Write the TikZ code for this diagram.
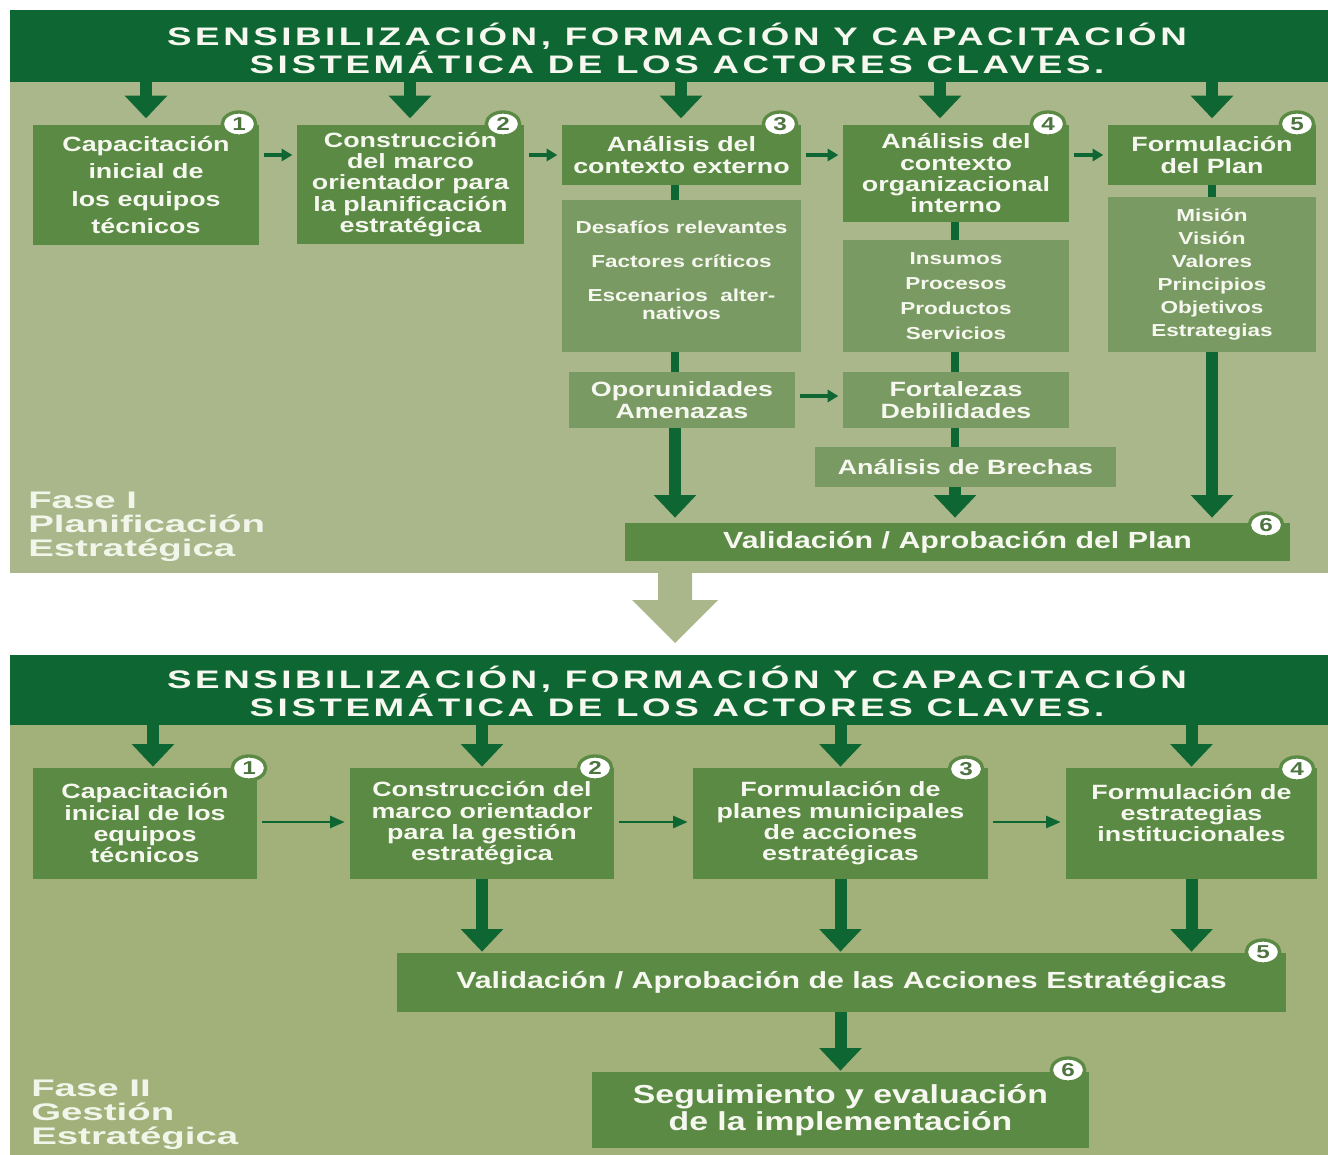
\documentclass[tikz,border=0pt]{standalone}
\usepackage{fontspec}
\setmainfont{Liberation Sans}[FakeStretch=1.3]
\newfontfamily\titlef{Liberation Sans}[FakeStretch=1.45,LetterSpace=14]
\newfontfamily\fasef{Liberation Sans}[FakeStretch=1.6]
\usetikzlibrary{arrows.meta,shapes.geometric}
\definecolor{dkg}{HTML}{0E6632}
\definecolor{olv}{HTML}{A9B78A}
\definecolor{olv2}{HTML}{A2B07A}
\definecolor{bxg}{HTML}{5B8A45}
\definecolor{sbg}{HTML}{7A9A63}
\definecolor{fas}{HTML}{F2F5EA}
\definecolor{wtx}{HTML}{F6F8F0}
\definecolor{numt}{HTML}{4E7440}
\tikzset{
  sz/.style 2 args={minimum width=#1*0.75pt, minimum height=#2*0.75pt},
  base/.style={inner sep=0pt, outer sep=0pt, align=center, text=wtx, anchor=north west},
  bar/.style={base, fill=dkg},
  box/.style={base, fill=bxg, font=\fontsize{15.5}{16}\selectfont\bfseries},
  sub/.style={base, fill=sbg, font=\fontsize{13}{13.5}\selectfont\bfseries},
  ttl/.style={inner sep=0pt, align=center, text=wtx, font=\titlef\fontsize{19}{21}\selectfont\bfseries},
  fase/.style={inner sep=0pt, align=left, anchor=west, text=fas, font=\fasef\fontsize{18}{18}\selectfont\bfseries},
  numc/.style={ellipse, fill=white, draw=bxg, line width=2.5pt, minimum width=25pt, minimum height=18pt, inner sep=0pt, text=numt, font=\fontsize{14}{14}\selectfont\bfseries},
  darr/.style={draw=dkg, line width=9pt, -{Triangle[width=31pt,length=17pt]}},
  conn/.style={draw=dkg, line width=6pt},
  sarr/.style={draw=dkg, line width=2.5pt, -{Triangle[width=9pt,length=8pt]}, shorten <=3.5pt, shorten >=3.5pt},
  harr/.style={draw=dkg, line width=2pt, -{Triangle[width=9pt,length=11pt]}, shorten <=4pt, shorten >=4pt}
}
\begin{document}
\begin{tikzpicture}[x=0.75pt, y=-0.75pt]
\useasboundingbox (0,0) rectangle (1328,1155);
% ---------------- Fase I ----------------
\fill[olv] (10,10) rectangle (1328,573);
\node[bar, sz={1318}{72}] (bar1) at (10,10) {};
\node[ttl] (t1) at (677,48) {SENSIBILIZACIÓN, FORMACIÓN Y CAPACITACIÓN\\SISTEMÁTICA DE LOS ACTORES CLAVES.};

\node[box, sz={226}{120}, font=\fontsize{15.5}{20.6}\selectfont\bfseries] (p1) at (33,125) {Capacitación\\inicial de\\los equipos\\técnicos};
\node[box, sz={227}{119}] (p2) at (297,125) {Construcción\\del marco\\orientador para\\la planificación\\estratégica};
\node[box, sz={239}{60}] (p3) at (562,125) {Análisis del\\contexto externo};
\node[box, sz={226}{97}] (p4) at (843,125) {Análisis del\\contexto\\organizacional\\interno};
\node[box, sz={208}{60}] (p5) at (1108,125) {Formulación\\del Plan};

\node[sub, sz={239}{152}] (s3) at (562,200) {Desafíos relevantes\\[12pt]Factores críticos\\[12pt]Escenarios\ \ alter-\\nativos\\[-4pt]\mbox{}};
\node[sub, sz={226}{112}, font=\fontsize{13}{18.75}\selectfont\bfseries] (s4) at (843,240) {Insumos\\Procesos\\Productos\\Servicios};
\node[sub, sz={208}{155}, font=\fontsize{13}{17.25}\selectfont\bfseries] (s5) at (1108,197) {Misión\\Visión\\Valores\\Principios\\Objetivos\\Estrategias};

\node[sub, sz={226}{56}, font=\fontsize{15.5}{16.5}\selectfont\bfseries] (oa) at (569,372) {Oporunidades\\Amenazas};
\node[sub, sz={226}{56}, font=\fontsize{15.5}{16.5}\selectfont\bfseries] (fd) at (843,372) {Fortalezas\\Debilidades};
\node[sub, sz={301}{40}, font=\fontsize{15.5}{16.5}\selectfont\bfseries] (br) at (815,447) {Análisis de Brechas};
\node[box, sz={665}{38}, font=\fontsize{17.5}{20}\selectfont\bfseries] (v1) at (625,523) {Validación / Aprobación del Plan};

\node[fase] (f1) at (28,527) {Fase I\\Planificación\\Estratégica};

\coordinate (a1) at (146,0);
\coordinate (a2) at (410,0);
\coordinate (a3) at (681,0);
\coordinate (a4) at (940,0);
\coordinate (a5) at (1212,0);
\coordinate (cx3) at (675,0);
\coordinate (cx4) at (955,0);
\coordinate (yh) at (0,155);
\coordinate (ya) at (0,396);

\draw[darr, shorten >=5pt] (bar1.south -| a1) -- (p1.north -| a1);
\draw[darr, shorten >=5pt] (bar1.south -| a2) -- (p2.north -| a2);
\draw[darr, shorten >=5pt] (bar1.south -| a3) -- (p3.north -| a3);
\draw[darr, shorten >=5pt] (bar1.south -| a4) -- (p4.north -| a4);
\draw[darr, shorten >=5pt] (bar1.south -| a5) -- (p5.north -| a5);

\draw[sarr] (p1.east |- yh) -- (p2.west |- yh);
\draw[sarr] (p2.east |- yh) -- (p3.west |- yh);
\draw[sarr] (p3.east |- yh) -- (p4.west |- yh);
\draw[sarr] (p4.east |- yh) -- (p5.west |- yh);
\draw[sarr] (oa.east |- ya) -- (fd.west |- ya);

\draw[conn] (p3.south -| cx3) -- (s3.north -| cx3);
\draw[conn] (s3.south -| cx3) -- (oa.north -| cx3);
\draw[conn] (p4.south -| cx4) -- (s4.north -| cx4);
\draw[conn] (s4.south -| cx4) -- (fd.north -| cx4);
\draw[conn] (fd.south -| cx4) -- (br.north -| cx4);
\draw[conn] (p5.south) -- (s5.north);

\draw[darr, shorten >=4pt] (oa.south -| cx3) -- (v1.north -| cx3);
\draw[darr, shorten >=4pt] (br.south -| cx4) -- (v1.north -| cx4);
\draw[darr, shorten >=4pt] (s5.south) -- (v1.north -| s5.south);

\node[numc] (n1) at (239,124) {1};
\node[numc] (n2) at (503,124) {2};
\node[numc] (n3) at (780,124) {3};
\node[numc] (n4) at (1048,124) {4};
\node[numc] (n5) at (1297,124) {5};
\node[numc] (n6) at (1266,525) {6};

% big transition arrow
\fill[olv] (658,573) -- (692,573) -- (692,600) -- (718,600) -- (675,643) -- (632,600) -- (658,600) -- cycle;

% ---------------- Fase II ----------------
\fill[olv2] (10,655) rectangle (1328,1155);
\node[bar, sz={1318}{70}] (bar2) at (10,655) {};
\node[ttl] (t2) at (677,691.5) {SENSIBILIZACIÓN, FORMACIÓN Y CAPACITACIÓN\\SISTEMÁTICA DE LOS ACTORES CLAVES.};

\node[box, sz={224}{111}] (q1) at (33,768) {Capacitación\\inicial de los\\equipos\\técnicos};
\node[box, sz={264}{111}] (q2) at (350,768) {Construcción del\\marco orientador\\para la gestión\\estratégica};
\node[box, sz={295}{111}] (q3) at (693,768) {Formulación de\\planes municipales\\de acciones\\estratégicas};
\node[box, sz={251}{111}] (q4) at (1066,768) {Formulación de\\estrategias\\institucionales\\\mbox{}};
\node[box, sz={889}{59}, font=\fontsize{17.5}{20}\selectfont\bfseries] (v2) at (397,953) {Validación / Aprobación de las Acciones Estratégicas};
\node[box, sz={497}{76}, font=\fontsize{19.5}{20}\selectfont\bfseries] (sg) at (592,1072) {Seguimiento y evaluación\\de la implementación};

\node[fase] (f2) at (31,1115) {Fase II\\Gestión\\Estratégica};

\coordinate (b1) at (153,0);
\coordinate (yb) at (0,822);

\draw[darr, shorten >=1pt] (bar2.south -| b1) -- (q1.north -| b1);
\draw[darr, shorten >=1pt] (bar2.south -| q2.north) -- (q2.north);
\draw[darr, shorten >=1pt] (bar2.south -| q3.north) -- (q3.north);
\draw[darr, shorten >=1pt] (bar2.south -| q4.north) -- (q4.north);

\draw[harr] (q1.east |- yb) -- (q2.west |- yb);
\draw[harr] (q2.east |- yb) -- (q3.west |- yb);
\draw[harr] (q3.east |- yb) -- (q4.west |- yb);

\draw[darr, shorten >=1pt] (q2.south) -- (v2.north -| q2.south);
\draw[darr, shorten >=1pt] (q3.south) -- (v2.north -| q3.south);
\draw[darr, shorten >=1pt] (q4.south) -- (v2.north -| q4.south);
\draw[darr, shorten >=1pt] (v2.south -| q3.south) -- (sg.north -| q3.south);

\node[numc] (m1) at (249,768) {1};
\node[numc] (m2) at (595,768) {2};
\node[numc] (m3) at (966,769) {3};
\node[numc] (m4) at (1297,769) {4};
\node[numc] (m5) at (1263,952) {5};
\node[numc] (m6) at (1068,1070) {6};
\end{tikzpicture}
\end{document}
